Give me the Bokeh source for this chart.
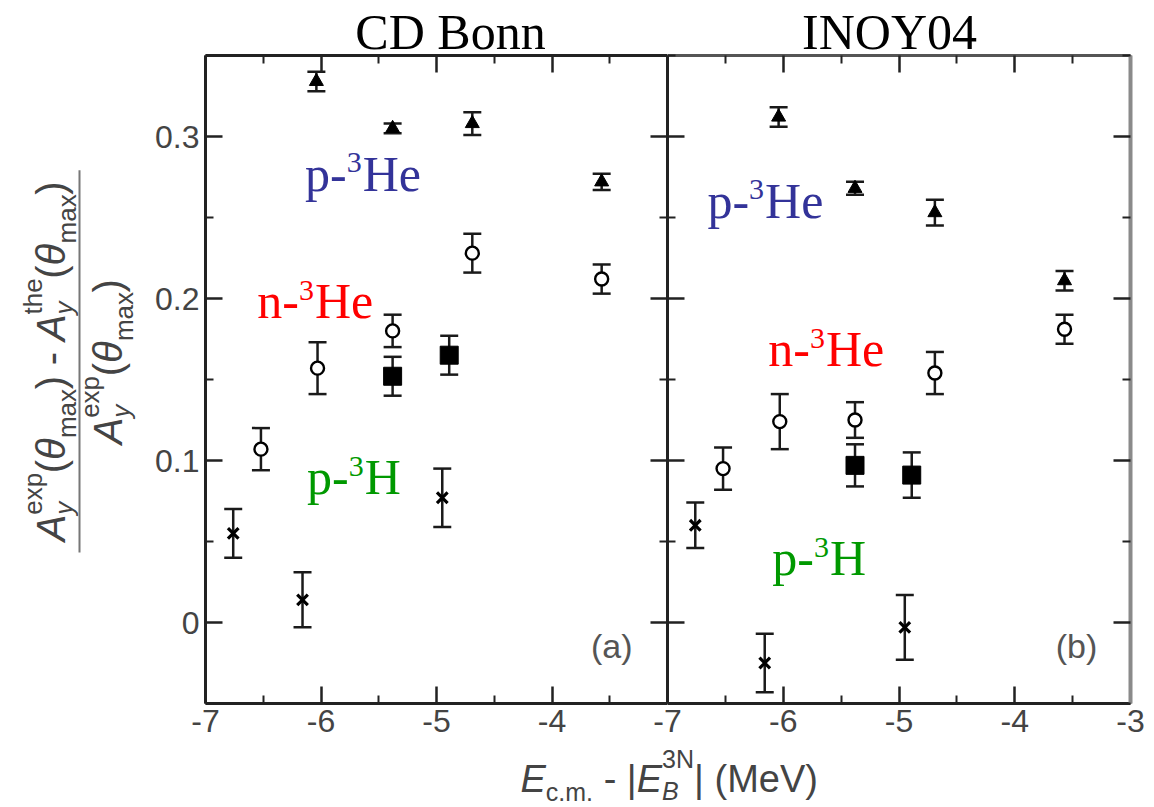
import math
from bokeh.plotting import figure
from bokeh.models import Range1d, LinearAxis, FixedTicker, ColumnDataSource, Whisker, TeeHead
from bokeh.layouts import row, column
from bokeh.core.properties import value
from bokeh.embed import file_html
from bokeh.resources import INLINE

# ---------------- data ----------------
panel_titles = ["CD Bonn", "INOY04"]
panel_tags = ["(a)", "(b)"]

energy_p3He = [-6.04, -5.38, -4.69, -3.57]
cdbonn_p3He = [0.334, 0.305, 0.308, 0.272]
cdbonn_p3He_err = [0.006, 0.003, 0.007, 0.005]
inoy_p3He = [0.312, 0.268, 0.253, 0.211]
inoy_p3He_err = [0.006, 0.004, 0.008, 0.006]

energy_n3He = [-6.52, -6.03, -5.38, -4.69, -3.57]
cdbonn_n3He = [0.107, 0.157, 0.180, 0.228, 0.212]
cdbonn_n3He_err = [0.013, 0.016, 0.010, 0.012, 0.009]
inoy_n3He = [0.095, 0.124, 0.125, 0.154, 0.181]
inoy_n3He_err = [0.013, 0.017, 0.011, 0.013, 0.009]

energy_sq = [-5.38, -4.89]
cdbonn_sq = [0.152, 0.165]
cdbonn_sq_err = [0.012, 0.012]
inoy_sq = [0.097, 0.091]
inoy_sq_err = [0.013, 0.014]

energy_p3H = [-6.76, -6.16, -4.95]
cdbonn_p3H = [0.055, 0.014, 0.077]
cdbonn_p3H_err = [0.015, 0.017, 0.018]
inoy_p3H = [0.060, -0.025, -0.003]
inoy_p3H_err = [0.014, 0.018, 0.020]

x_ticks_left = [-7, -6, -5, -4]
x_tick_labels_left = ["-7", "-6", "-5", "-4"]
x_ticks_right = [-7, -6, -5, -4, -3]
x_tick_labels_right = ["-7", "-6", "-5", "-4", "-3"]
x_minor = [-6.5, -5.5, -4.5, -3.5]
y_ticks = [0, 0.1, 0.2, 0.3]
y_tick_labels = ["0", "0.1", "0.2", "0.3"]
y_minor = [-0.05, 0.05, 0.15, 0.25, 0.35]

# species label anchors (data coords, baseline-left) per panel
labels_a = [("p-", "3", "He", "#333399", -6.138, 0.2675),
            ("n-", "3", "He", "#ff0000", -6.552, 0.189),
            ("p-", "3", "H", "#009900", -6.121, 0.080)]
labels_b = [("p-", "3", "He", "#333399", -6.655, 0.2508),
            ("n-", "3", "He", "#ff0000", -6.129, 0.159),
            ("p-", "3", "H", "#009900", -6.095, 0.0303)]

SANS = value("Liberation Sans")
SERIF = value("Liberation Serif")
AXC = "#222222"
TXT = "#444444"
ERR = "#1a1a1a"
MID = 0.31  # distance (em) from alphabetic baseline up to the em-box middle

W = {"A": .667, "y": .5, "e": .556, "x": .5, "p": .556, "t": .278, "h": .556, "m": .833,
     "a": .556, "(": .333, ")": .333, "θ": .556, "-": .333, " ": .278, "E": .667, "c": .5,
     ".": .278, "|": .26, "B": .667, "3": .556, "N": .722, "M": .833, "V": .667}
WS = {"p": .5, "n": .5, "-": .333, "3": .5, "H": .722, "e": .444}


def tw(s, size, table=W):
    return sum(table.get(ch, .556) for ch in s) * size


def style_axis(ax, ticks, minor, labels, line_color=AXC, line_width=3):
    ax.ticker = FixedTicker(ticks=ticks, minor_ticks=minor)
    ax.major_tick_in = 17
    ax.major_tick_out = 0
    ax.minor_tick_in = 8
    ax.minor_tick_out = 0
    ax.major_tick_line_width = 2.5
    ax.minor_tick_line_width = 2
    ax.major_tick_line_color = AXC
    ax.minor_tick_line_color = AXC
    ax.axis_line_color = line_color
    ax.axis_line_width = line_width
    if labels is not None:
        ax.major_label_text_font = "Liberation Sans"
        ax.major_label_text_font_size = "32px"
        ax.major_label_text_color = TXT
        ax.major_label_standoff = 6
        ax.major_label_overrides = dict(zip(ticks, labels))
    else:
        ax.major_label_text_font_size = "0px"
        ax.major_label_text_alpha = 0
        ax.major_label_text_color = None
        ax.major_label_standoff = 0


def make_panel(width, left_border, right_border, xticks, xlabels, data, labels, tag, tag_xy,
               left_show, right_gray):
    p = figure(width=width, height=695, x_range=Range1d(-7, -3), y_range=Range1d(-0.05, 0.35),
               output_backend="svg", toolbar_location=None,
               x_axis_location=None, y_axis_location=None,
               min_border_left=left_border, min_border_right=right_border,
               min_border_top=3, min_border_bottom=44,
               outline_line_color=None, background_fill_alpha=0,
               border_fill_alpha=0)
    p.grid.grid_line_color = None
    p.grid.visible = False
    bottom = LinearAxis()
    style_axis(bottom, xticks, x_minor, xlabels)
    p.add_layout(bottom, "below")
    top = LinearAxis()
    style_axis(top, xticks, x_minor, None, line_color="#555555" if right_gray else AXC)
    p.add_layout(top, "above")
    left = LinearAxis()
    style_axis(left, y_ticks, y_minor, y_tick_labels if left_show else None)
    p.add_layout(left, "left")
    right = LinearAxis()
    style_axis(right, y_ticks, y_minor, None,
               line_color="#8a8a8a" if right_gray else AXC, line_width=4 if right_gray else 3)
    p.add_layout(right, "right")

    for (xs, ys, es, kind) in data:
        src = ColumnDataSource(dict(x=xs, y=ys,
                                    upper=[a + b for a, b in zip(ys, es)],
                                    lower=[a - b for a, b in zip(ys, es)]))
        w = Whisker(base="x", upper="upper", lower="lower", source=src,
                    line_width=2.5, line_color=ERR,
                    upper_head=TeeHead(size=18, line_width=2.5, line_color=ERR),
                    lower_head=TeeHead(size=18, line_width=2.5, line_color=ERR))
        p.add_layout(w)
        if kind == "tri":
            p.scatter("x", "y", source=src, marker="triangle", size=14, color="black")
        elif kind == "circ":
            p.scatter("x", "y", source=src, marker="circle", size=13, fill_color="white",
                      line_color="black", line_width=2.4)
        elif kind == "sq":
            p.scatter("x", "y", source=src, marker="square", size=18, color="black")
        else:
            p.scatter("x", "y", source=src, marker="x", size=15, line_color="black", line_width=3.2)

    for (a, sup, b, col, lx, ly) in labels:
        w1 = tw(a, 50, WS)
        p.text(x=[lx], y=[ly], text=[a], text_font=SERIF, text_font_size="50px",
               text_color=col, text_baseline="middle", text_align="left", y_offset=-MID * 50)
        p.text(x=[lx], y=[ly], text=[sup], text_font=SERIF, text_font_size="30px",
               text_color=col, text_baseline="middle", text_align="left",
               x_offset=w1, y_offset=-17 - MID * 30)
        p.text(x=[lx], y=[ly], text=[b], text_font=SERIF, text_font_size="50px",
               text_color=col, text_baseline="middle", text_align="left",
               x_offset=w1 + tw(sup, 30, WS) + 1, y_offset=-MID * 50)

    p.text(x=[tag_xy[0]], y=[tag_xy[1]], text=[tag], text_font=SANS, text_font_size="34px",
           text_color="#555555", text_align="center", text_baseline="middle")
    return p


def blank(width, height, xr, yr):
    f = figure(width=width, height=height, x_range=Range1d(*xr), y_range=Range1d(*yr),
               output_backend="svg", toolbar_location=None,
               x_axis_location=None, y_axis_location=None, min_border=0,
               outline_line_color=None, background_fill_alpha=0, border_fill_alpha=0)
    f.grid.visible = False
    return f


def rich(fig, x0, y0, pieces, rotated, scale=1.0, color=TXT):
    """Lay out text pieces along a baseline starting at (x0, y0) (page pixels).
    Items: number -> blank advance; list of (text, size, style, baseline shift) -> stacked."""
    pos = 0.0
    for item in pieces:
        if isinstance(item, (int, float)):
            pos += item * scale
            continue
        adv = 0.0
        for (txt, size, style, shift) in item:
            adv = max(adv, tw(txt, size))
            if rotated:
                px, py, ang = x0 + shift - MID * size, y0 - pos, math.pi / 2
            else:
                px, py, ang = x0 + pos, y0 + shift - MID * size, 0
            fig.text(x=[px], y=[py], text=[txt], angle=ang, text_font=SANS,
                     text_font_size=f"{size}px", text_font_style=style, text_color=color,
                     text_align="left", text_baseline="middle")
        pos += adv * scale


# ---------------- panels ----------------
data_a = [(energy_p3He, cdbonn_p3He, cdbonn_p3He_err, "tri"),
          (energy_n3He, cdbonn_n3He, cdbonn_n3He_err, "circ"),
          (energy_sq, cdbonn_sq, cdbonn_sq_err, "sq"),
          (energy_p3H, cdbonn_p3H, cdbonn_p3H_err, "x")]
data_b = [(energy_p3He, inoy_p3He, inoy_p3He_err, "tri"),
          (energy_n3He, inoy_n3He, inoy_n3He_err, "circ"),
          (energy_sq, inoy_sq, inoy_sq_err, "sq"),
          (energy_p3H, inoy_p3H, inoy_p3H_err, "x")]

left_fig = make_panel(517, 55, 0, x_ticks_left, x_tick_labels_left, data_a, labels_a,
                      panel_tags[0], (-3.483, -0.0142), True, False)
right_fig = make_panel(507, 20, 24, x_ticks_right, x_tick_labels_right, data_b, labels_b,
                       panel_tags[1], (-3.466, -0.0142), False, True)
right_fig.margin = (0, 0, 0, -20)

# ---------------- titles (strip overlaps the top of the panel row) ----------------
title_fig = blank(1154, 64, (0, 1154), (64, 0))
title_fig.text(x=[450], y=[47 - MID * 50], text=[panel_titles[0]], text_font=SERIF,
               text_font_size="50px", text_color="black", text_baseline="middle",
               text_align="center")
title_fig.text(x=[889], y=[47 - MID * 50], text=[panel_titles[1]], text_font=SERIF,
               text_font_size="50px", text_color="black", text_baseline="middle",
               text_align="center")

# ---------------- y label (fraction) ----------------
ylab = blank(150, 695, (0, 150), (747, 52))
F, S = 40, 26
GAP = 0.278 * F
num = [[("A", F, "italic", 0)], [("y", S, "italic", 9), ("exp", S, "normal", -22)],
       [("(", F, "normal", 0)], [("θ", F, "italic", 0)], [("max", S, "normal", 12)],
       [(")", F, "normal", 0)], GAP, [("-", F, "normal", 0)], GAP,
       [("A", F, "italic", 0)], [("y", S, "italic", 9), ("the", S, "normal", -22)],
       [("(", F, "normal", 0)], [("θ", F, "italic", 0)], [("max", S, "normal", 12)],
       [(")", F, "normal", 0)]]
den = [[("A", F, "italic", 0)], [("y", S, "italic", 9), ("exp", S, "normal", -22)],
       [("(", F, "normal", 0)], [("θ", F, "italic", 0)], [("max", S, "normal", 12)],
       [(")", F, "normal", 0)]]
rich(ylab, 63, 573, num, True, scale=1.063)
rich(ylab, 120, 469, den, True, scale=1.063)
ylab.line(x=[79, 79], y=[175, 585], line_color="#777777", line_width=2)

# ---------------- x label (strip overlaps the bottom of the panel row) ----------------
xlab = blank(1154, 68, (0, 1154), (807, 739))
xlab.margin = (-8, 0, 0, 0)
XF, XS = 38, 25
XG = 0.278 * XF
xl = [[("E", XF, "italic", 0)], [("c.m.", XS, "normal", 9)], XG, [("-", XF, "normal", 0)], XG,
      [("|", XF, "normal", 0)], [("E", XF, "italic", 0)],
      [("B", XS, "italic", 8), ("3N", XS, "normal", -24)],
      [("|", XF, "normal", 0)], XG, [("(MeV)", XF, "normal", 0)]]
rich(xlab, 520, 790, xl, False)

mid_row = row(ylab, left_fig, right_fig)
mid_row.margin = (-12, 0, 0, 0)
layout = column(title_fig, mid_row, xlab)

open("out.html", "w").write(file_html(layout, INLINE))
